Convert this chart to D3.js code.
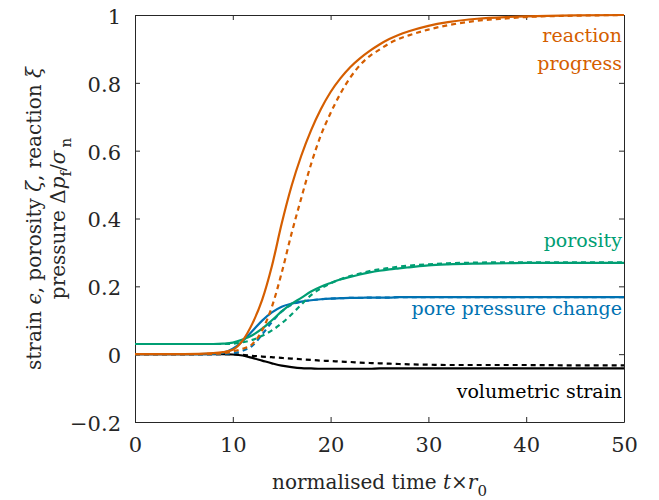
<!DOCTYPE html>
<html>
<head>
<meta charset="utf-8">
<script src="https://cdn.jsdelivr.net/npm/d3@7"></script>
<style>
  body { margin: 0; background: #fff; }
</style>
</head>
<body>
<div id="container"></div>
<script>
/**
 * DATA
 * */
const time = [0, 5, 8, 9, 10, 11, 12, 13, 14, 15, 16, 17, 18, 19, 20, 21, 22, 23, 24, 25, 26, 27, 28, 30, 32, 35, 38, 40, 45, 50];

// reaction progress xi
const reactionSolid  = [0, 0, 0.003, 0.006, 0.013, 0.04, 0.09, 0.16, 0.26, 0.385, 0.495, 0.585, 0.66, 0.722, 0.773, 0.813, 0.846, 0.872, 0.894, 0.913, 0.929, 0.942, 0.952, 0.968, 0.979, 0.989, 0.994, 0.996, 0.999, 1.0];
const reactionDashed = [0, 0, 0.001, 0.003, 0.008, 0.016, 0.03, 0.07, 0.14, 0.24, 0.355, 0.46, 0.56, 0.645, 0.711, 0.768, 0.815, 0.852, 0.879, 0.898, 0.916, 0.93, 0.94, 0.957, 0.97, 0.983, 0.99, 0.994, 0.998, 1.0];

// porosity zeta
const porositySolid  = [0.03, 0.03, 0.03, 0.031, 0.034, 0.043, 0.056, 0.075, 0.1, 0.126, 0.148, 0.166, 0.185, 0.199, 0.21, 0.22, 0.228, 0.235, 0.241, 0.246, 0.25, 0.253, 0.256, 0.262, 0.265, 0.267, 0.268, 0.269, 0.269, 0.269];
const porosityDashed = [0.03, 0.03, 0.03, 0.03, 0.031, 0.035, 0.042, 0.054, 0.07, 0.091, 0.117, 0.146, 0.174, 0.194, 0.209, 0.221, 0.23, 0.238, 0.245, 0.25, 0.254, 0.258, 0.261, 0.265, 0.268, 0.27, 0.271, 0.271, 0.271, 0.271];

// pore pressure change
const pressureSolid  = [0, 0, 0.001, 0.004, 0.016, 0.038, 0.068, 0.099, 0.123, 0.14, 0.149, 0.155, 0.159, 0.162, 0.164, 0.165, 0.166, 0.166, 0.167, 0.167, 0.167, 0.168, 0.168, 0.168, 0.168, 0.168, 0.168, 0.168, 0.168, 0.168];
const pressureDashed = [0, 0, 0, 0.001, 0.003, 0.01, 0.025, 0.058, 0.095, 0.126, 0.146, 0.155, 0.159, 0.162, 0.164, 0.165, 0.166, 0.166, 0.167, 0.167, 0.167, 0.168, 0.168, 0.168, 0.168, 0.168, 0.168, 0.168, 0.168, 0.168];

// volumetric strain
const strainSolid  = [0, 0, 0, 0, -0.001, -0.004, -0.011, -0.019, -0.027, -0.034, -0.038, -0.041, -0.042, -0.043, -0.043, -0.043, -0.043, -0.043, -0.043, -0.042, -0.042, -0.042, -0.042, -0.042, -0.042, -0.042, -0.042, -0.042, -0.042, -0.042];
const strainDashed = [0, 0, 0, 0, 0, -0.002, -0.005, -0.007, -0.009, -0.011, -0.013, -0.015, -0.017, -0.019, -0.02, -0.022, -0.023, -0.025, -0.026, -0.027, -0.028, -0.029, -0.03, -0.031, -0.032, -0.032, -0.032, -0.032, -0.033, -0.033];

const xTicks = [0, 10, 20, 30, 40, 50];
const yTicks = [-0.2, 0, 0.2, 0.4, 0.6, 0.8, 1];

const colors = { reaction: "#D55E00", porosity: "#009E73", pressure: "#0072B2", strain: "#000000" };

/**
 * LAYOUT
 * */
const width = 659, height = 500;
const margin = { top: 15, right: 35, bottom: 78, left: 135 };
const axisColor = "#262626";
const serif = "DejaVu Serif";
const tickFs = 21, titleFs = 20, labelFs = 19;

const svg = d3.select("#container").append("svg")
  .attr("width", width)
  .attr("height", height)
  .attr("font-family", serif);

const x = d3.scaleLinear().domain([0, 50]).range([margin.left, width - margin.right]);
const y = d3.scaleLinear().domain([-0.2, 1]).range([height - margin.bottom, margin.top]);

// box with inward ticks (all four sides)
const tickLen = 5;
const fmt = d => d < 0 ? "\u2212" + Math.abs(d) : String(d);

const xAxisB = svg.append("g").attr("transform", `translate(0,${y(-0.2)})`)
  .call(d3.axisBottom(x).tickValues(xTicks).tickSizeInner(-tickLen).tickSizeOuter(0).tickPadding(14).tickFormat(fmt));
const xAxisT = svg.append("g").attr("transform", `translate(0,${y(1)})`)
  .call(d3.axisTop(x).tickValues(xTicks).tickSizeInner(-tickLen).tickSizeOuter(0).tickFormat(""));
const yAxisL = svg.append("g").attr("transform", `translate(${x(0)},0)`)
  .call(d3.axisLeft(y).tickValues(yTicks).tickSizeInner(-tickLen).tickSizeOuter(0).tickPadding(14).tickFormat(fmt));
const yAxisR = svg.append("g").attr("transform", `translate(${x(50)},0)`)
  .call(d3.axisRight(y).tickValues(yTicks).tickSizeInner(-tickLen).tickSizeOuter(0).tickFormat(""));

[xAxisB, xAxisT, yAxisL, yAxisR].forEach(g => {
  g.attr("font-family", serif).attr("font-size", tickFs);
  g.select(".domain").attr("stroke", axisColor).attr("stroke-width", 1);
  g.selectAll(".tick line").attr("stroke", axisColor).attr("stroke-width", 1);
  g.selectAll(".tick text").attr("fill", axisColor);
});
xAxisB.selectAll(".tick text").attr("dy", "0.71em").attr("y", 15);
yAxisL.selectAll(".tick text").attr("dy", "0.4em");

// curves
const series = [
  { key: "strain", solid: strainSolid, dashed: strainDashed },
  { key: "pressure", solid: pressureSolid, dashed: pressureDashed },
  { key: "porosity", solid: porositySolid, dashed: porosityDashed },
  { key: "reaction", solid: reactionSolid, dashed: reactionDashed }
];

const line = d3.line()
  .x((d, i) => x(time[i]))
  .y(d => y(d))
  .curve(d3.curveMonotoneX);

const plot = svg.append("g");
series.forEach(s => {
  plot.append("path")
    .attr("d", line(s.solid))
    .attr("fill", "none")
    .attr("stroke", colors[s.key])
    .attr("stroke-width", 2.2);
  plot.append("path")
    .attr("d", line(s.dashed))
    .attr("fill", "none")
    .attr("stroke", colors[s.key])
    .attr("stroke-width", 2.2)
    .attr("stroke-dasharray", "5,4");
});

// in-plot labels
const labels = [
  { text: "reaction", v: 0.92, key: "reaction" },
  { text: "progress", v: 0.838, key: "reaction" },
  { text: "porosity", v: 0.316, key: "porosity" },
  { text: "pore pressure change", v: 0.115, key: "pressure" },
  { text: "volumetric strain", v: -0.13, key: "strain" }
];
svg.selectAll("text.lbl")
  .data(labels)
  .join("text")
  .attr("class", "lbl")
  .attr("x", x(50) - 2)
  .attr("y", d => y(d.v))
  .attr("text-anchor", "end")
  .attr("fill", d => colors[d.key])
  .attr("font-size", labelFs)
  .text(d => d.text);

// x axis title
const xt = svg.append("text")
  .attr("x", (x(0) + x(50)) / 2)
  .attr("y", 489)
  .attr("text-anchor", "middle")
  .attr("fill", axisColor)
  .attr("font-size", titleFs);
xt.append("tspan").text("normalised time ");
xt.append("tspan").attr("font-style", "italic").text("t");
xt.append("tspan").text("\u00d7");
xt.append("tspan").attr("font-style", "italic").text("r");
xt.append("tspan").attr("dy", 7).attr("font-size", 15).text("0");

// y axis title (two lines)
const yc = (y(-0.2) + y(1)) / 2;
const yt1 = svg.append("text")
  .attr("transform", `translate(41,${yc}) rotate(-90)`)
  .attr("text-anchor", "middle")
  .attr("fill", axisColor)
  .attr("font-size", titleFs);
yt1.append("tspan").text("strain ");
yt1.append("tspan").attr("font-style", "italic").text("\u03f5");
yt1.append("tspan").text(", porosity ");
yt1.append("tspan").attr("font-style", "italic").text("\u03b6");
yt1.append("tspan").text(", reaction ");
yt1.append("tspan").attr("font-style", "italic").text("\u03be");

const yt2 = svg.append("text")
  .attr("transform", `translate(65,${yc}) rotate(-90)`)
  .attr("text-anchor", "middle")
  .attr("fill", axisColor)
  .attr("font-size", titleFs);
yt2.append("tspan").text("pressure \u0394");
yt2.append("tspan").attr("font-style", "italic").text("p");
yt2.append("tspan").attr("dy", 6).attr("font-size", 15).text("f");
yt2.append("tspan").attr("dy", -6).text("/");
yt2.append("tspan").attr("font-style", "italic").text("\u03c3");
yt2.append("tspan").attr("dy", 6).attr("font-size", 15).text("\u2009n");
</script>
</body>
</html>
